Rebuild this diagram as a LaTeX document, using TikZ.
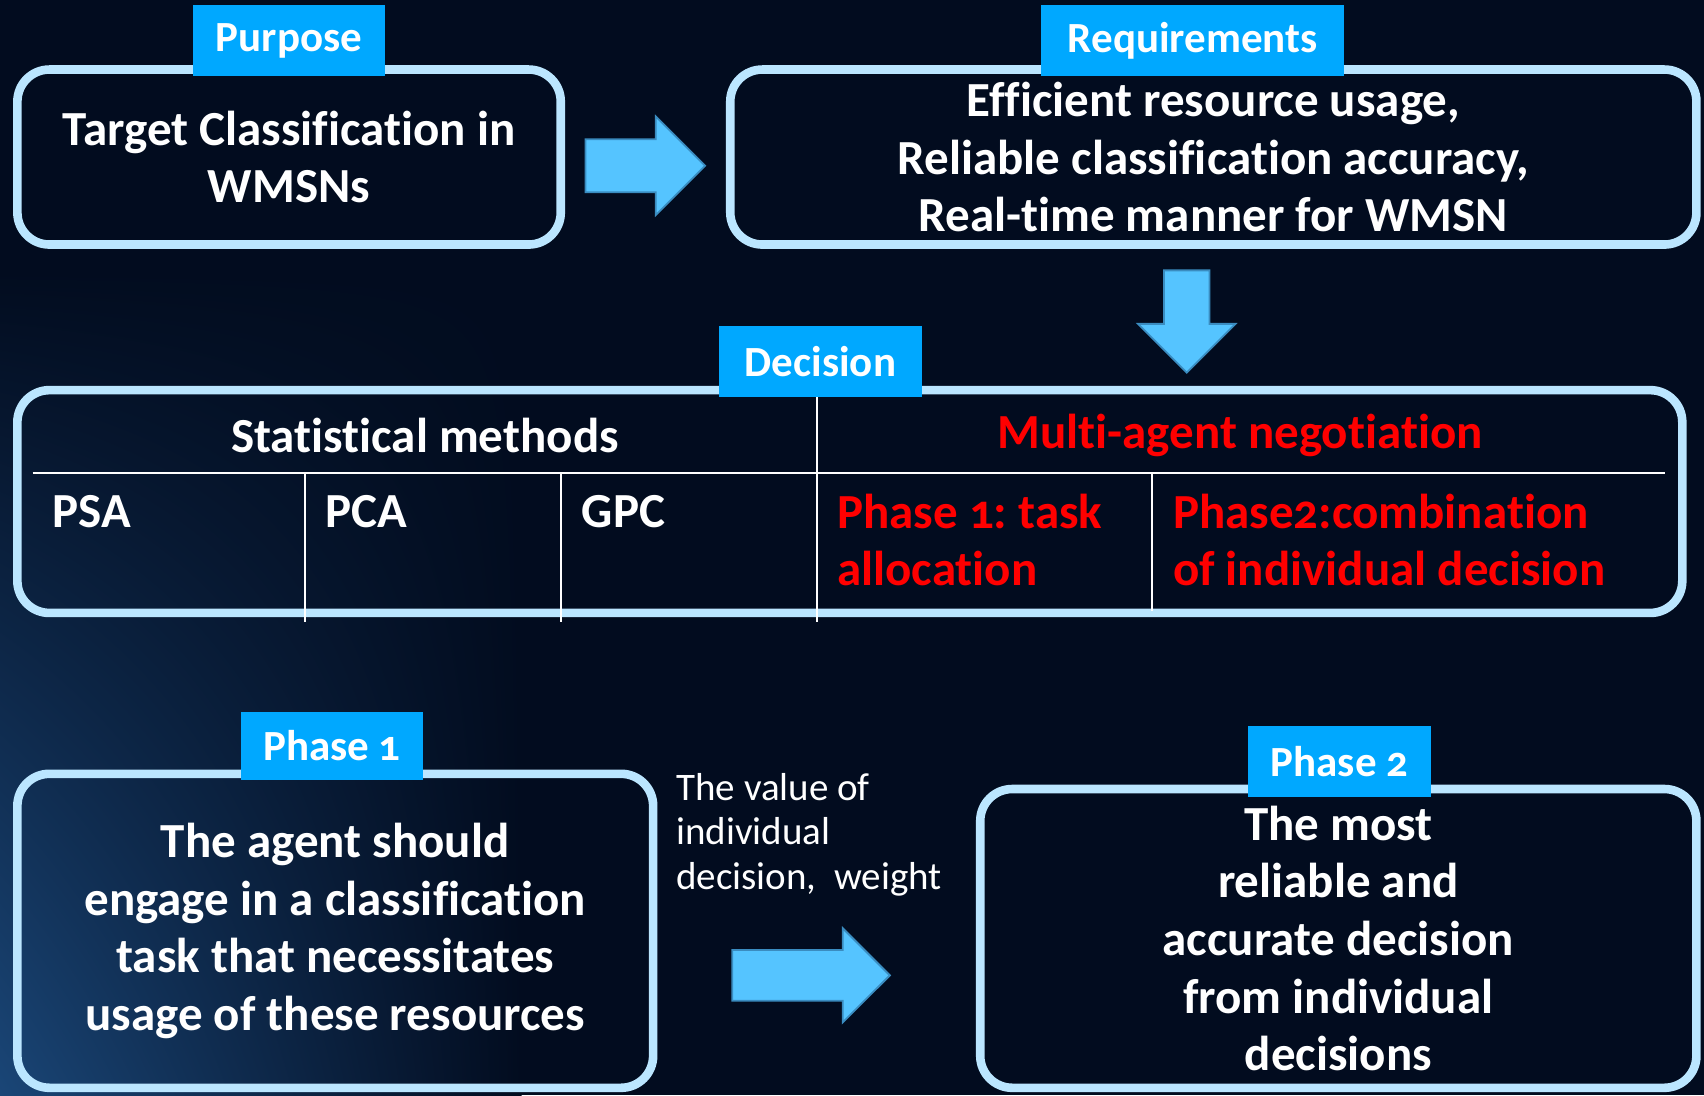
\documentclass[tikz,border=0pt]{standalone}
\usepackage{fontspec}
\setmainfont{Carlito}[Numbers=OldStyle, Ligatures=NoCommon]
\usetikzlibrary{shapes.arrows, shadings, positioning}
\definecolor{bgnavy}{HTML}{020C1F}
\definecolor{streak}{HTML}{1A4677}
\definecolor{rim}{HTML}{BBE6FF}
\definecolor{tabblue}{HTML}{00A8FF}
\definecolor{arrfill}{HTML}{55C4FF}
\definecolor{arredge}{HTML}{3A8CC0}
\definecolor{hotred}{HTML}{FF0000}
\frenchspacing
\tikzset{
  box/.style ={rectangle, rounded corners=16pt, draw=rim, line width=4.3pt, inner sep=0pt, align=center, text=white, font=\bfseries\fontsize{24.5}{28.8}\selectfont},
  tab/.style ={rectangle, fill=tabblue, inner sep=0pt, text=white, font=\bfseries\fontsize{21.5}{25}\selectfont},
  barr/.style={single arrow, fill=arrfill, draw=arredge, line width=0.9pt, single arrow tip angle=90, inner xsep=0pt},
  cell/.style={text=white, align=left, inner sep=0pt, font=\bfseries\fontsize{24.5}{28.8}\selectfont},
  hot/.style ={cell, text=hotred},
  lbl/.style ={text=white, align=left, inner sep=0pt, font=\fontsize{19.5}{22.3}\selectfont},
  tline/.style={draw=white, line width=1pt},
}
\begin{document}
\begin{tikzpicture}[x=0.5434pt, y=-0.5434pt]
  % background
  \fill[bgnavy] (0,0) rectangle (1568,1008);
  \shade[upper left=bgnavy, lower left=streak, upper right=bgnavy, lower right=bgnavy] (0,250) rectangle (480,1008);
  \useasboundingbox (0,0) rectangle (1568,1008);

  % top row
  \node[box, minimum width=271.7pt, minimum height=87.5pt] (purp) at (266,144.5) {Target Classification in\\WMSNs};
  \node[box, minimum width=483.1pt, minimum height=87.5pt] (req) at (1116.5,144.5) {Efficient resource usage,\\Reliable classification accuracy,\\Real-time manner for WMSN};
  \node[tab, minimum width=95.6pt, minimum height=35.3pt] (tpurp) at (266,37.5) {Purpose};
  \node[tab, minimum width=151.6pt, minimum height=35.3pt] (treq) at (1097.5,37.5) {Requirements};
  \node[barr, inner ysep=12.8pt, single arrow head extend=11.4pt, minimum height=59.8pt, anchor=tip] (a1) at (650,152.5) {};
  \node[barr, inner xsep=10.9pt, inner ysep=0pt, single arrow head extend=13pt, minimum height=51.1pt, shape border rotate=270, anchor=tip] (a2) at (1092,344) {};

  % decision table
  \node[box, minimum width=832.5pt, minimum height=111.4pt] (dec) at (782,461.5) {};
  \draw[tline] (30,435) -- (1532,435);
  \draw[tline] (281,435) -- (281,572);
  \draw[tline] (516,435) -- (516,572);
  \draw[tline] (752,365) -- (752,572);
  \draw[tline] (1060,435) -- (1060,562);
  \node[tab, minimum width=101.1pt, minimum height=35.3pt] (tdec) at (755,332.5) {Decision};
  \node[cell] (stat) at (391,401) {Statistical methods};
  \node[hot] (mas) at (1141,401) {Multi-agent negotiation};
  \node[cell, anchor=west] (psa) at (48,471) {PSA};
  \node[cell, anchor=west] (pca) at (299,471) {PCA};
  \node[cell, anchor=west] (gpc) at (535,471) {GPC};
  \node[hot, anchor=west] (ph1) at (770,497) {Phase 1: task\\allocation};
  \node[hot, anchor=west] (ph2) at (1079,497) {Phase2:combination\\of individual decision};

  % bottom row
  \node[box, minimum width=317.9pt, minimum height=157pt] (agent) at (308.5,856.5) {The agent should\\engage in a classification\\task that necessitates\\usage of these resources};
  \node[box, minimum width=358.1pt, minimum height=149.4pt] (best) at (1231.5,863.5) {The most\\reliable and\\accurate decision\\from individual\\decisions};
  \node[tab, minimum width=90.7pt, minimum height=34.2pt] (tph1) at (305.5,686.5) {Phase 1};
  \node[tab, minimum width=91.8pt, minimum height=35.3pt] (tph2) at (1232.5,700.5) {Phase 2};
  \node[lbl, anchor=west] (val) at (622,768) {The value of\\individual\\decision,\ \ weight};
  \node[barr, inner ysep=12.2pt, single arrow head extend=10.9pt, minimum height=78.8pt, anchor=tip] (a3) at (820,897.5) {};
\end{tikzpicture}
\end{document}
